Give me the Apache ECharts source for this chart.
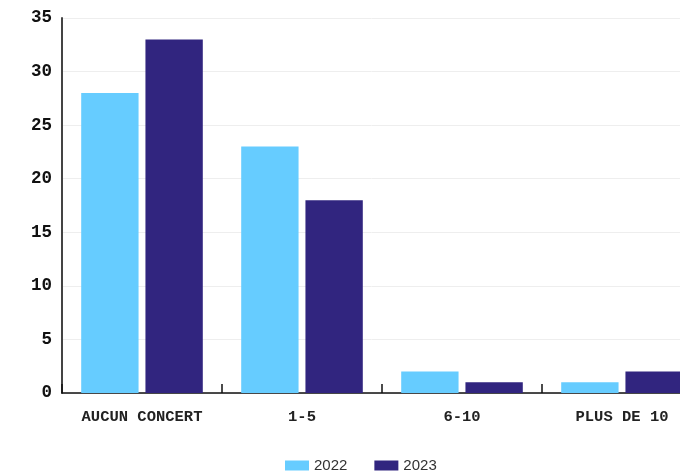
<!DOCTYPE html>
<html><head><meta charset="utf-8">
<script src="https://cdn.jsdelivr.net/npm/echarts@6/dist/echarts.min.js"></script>
<style>html,body{margin:0;padding:0;background:#fff}#c{width:680px;height:473px}</style>
</head><body><div id="c"></div>
<script>
const categories = ['AUCUN CONCERT', '1-5', '6-10', 'PLUS DE 10'];
const values2022 = [28, 23, 2, 1];
const values2023 = [33, 18, 1, 2];
const seriesNames = ['2022', '2023'];

const chart = echarts.init(document.getElementById('c'));
chart.setOption({
  animation: false,
  grid: { left: 62, right: -22, top: 18, bottom: 80, outerBoundsMode: 'none', containLabel: false },
  legend: {
    bottom: -5, left: 280,
    itemWidth: 24, itemHeight: 10, itemGap: 27,
    icon: 'rect',
    textStyle: { fontFamily: 'Liberation Sans', fontSize: 15, color: '#333' },
    data: seriesNames
  },
  xAxis: {
    type: 'category', data: categories,
    axisLine: { lineStyle: { color: '#111', width: 1.5 } },
    axisTick: { show: true, inside: true, length: 9, lineStyle: { color: '#111', width: 1.5 } },
    axisLabel: { margin: 16, fontFamily: 'Liberation Mono', fontWeight: 'bold', fontSize: 15.5, color: '#222' }
  },
  yAxis: {
    type: 'value', min: 0, max: 35, interval: 5,
    axisLine: { show: true, lineStyle: { color: '#444', width: 2 } },
    axisTick: { show: false },
    splitLine: { lineStyle: { color: '#eee' } },
    axisLabel: { margin: 10, fontFamily: 'Liberation Mono', fontWeight: 'bold', fontSize: 17.5, color: '#111' }
  },
  series: [
    { name: seriesNames[0], type: 'bar', data: values2022, itemStyle: { color: '#66ccff' }, barGap: '12%', barCategoryGap: '24%' },
    { name: seriesNames[1], type: 'bar', data: values2023, itemStyle: { color: '#31257f' }, barGap: '12%', barCategoryGap: '24%' }
  ]
});
</script></body></html>
